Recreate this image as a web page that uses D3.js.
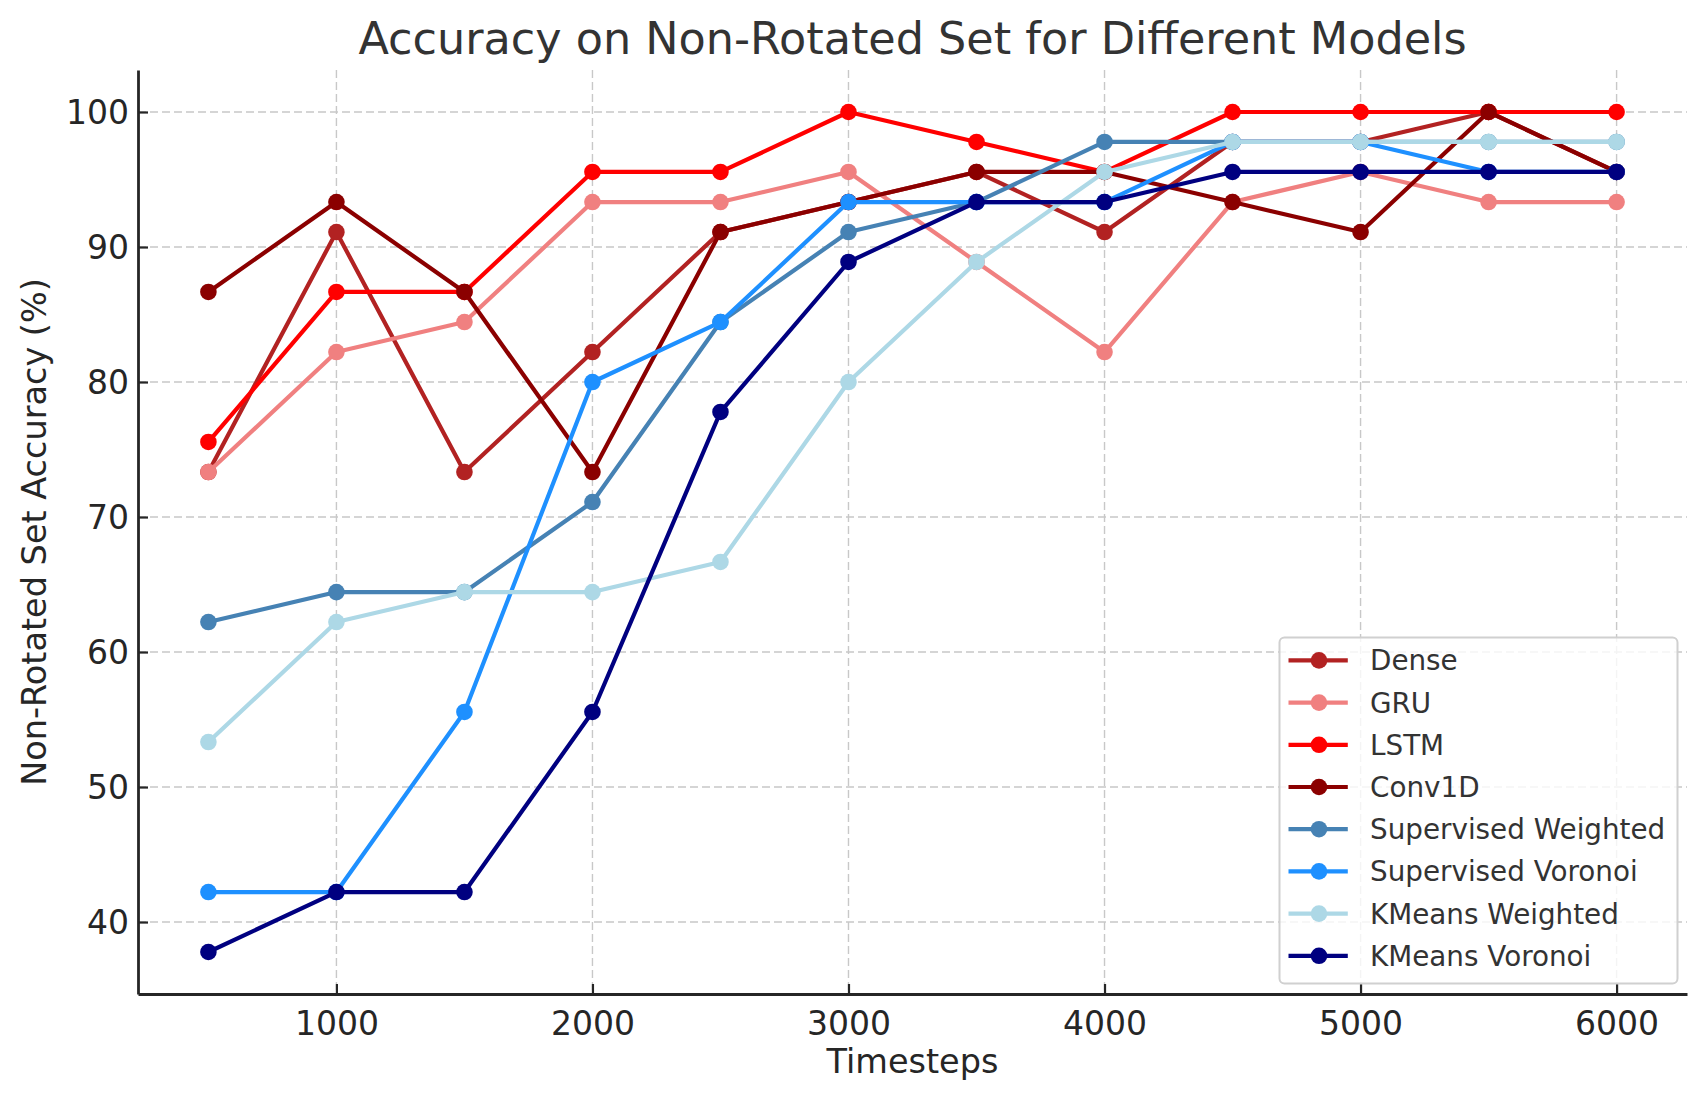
<!DOCTYPE html>
<html><head><meta charset="utf-8">
<script src="https://cdn.jsdelivr.net/npm/d3@7"></script>
<style>
html,body{margin:0;padding:0;background:#fff;}
svg{display:block;font-family:"DejaVu Sans",sans-serif;}
</style></head>
<body><svg id="chart" width="1707" height="1101"></svg>
<script>
const timesteps = [500,1000,1500,2000,2500,3000,3500,4000,4500,5000,5500,6000];
const seriesNames = ["Dense","GRU","LSTM","Conv1D","Supervised Weighted","Supervised Voronoi","KMeans Weighted","KMeans Voronoi"];
const seriesColors = ["#b22222","#f08080","#ff0000","#8b0000","#4682b4","#1e90ff","#add8e6","#000080"];
const dense   = [73.33,91.11,73.33,82.22,91.11,93.33,95.56,91.11,97.78,97.78,100,95.56];
const gru     = [73.33,82.22,84.44,93.33,93.33,95.56,88.89,82.22,93.33,95.56,93.33,93.33];
const lstm    = [75.56,86.67,86.67,95.56,95.56,100,97.78,95.56,100,100,100,100];
const conv1d  = [86.67,93.33,86.67,73.33,91.11,93.33,95.56,95.56,93.33,91.11,100,95.56];
const supWeighted = [62.22,64.44,64.44,71.11,84.44,91.11,93.33,97.78,97.78,97.78,97.78,97.78];
const supVoronoi  = [42.22,42.22,55.56,80,84.44,93.33,93.33,93.33,97.78,97.78,95.56,95.56];
const kmWeighted  = [53.33,62.22,64.44,64.44,66.67,80,88.89,95.56,97.78,97.78,97.78,97.78];
const kmVoronoi   = [37.78,42.22,42.22,55.56,77.78,88.89,93.33,93.33,95.56,95.56,95.56,95.56];
const xTicks = [1000,2000,3000,4000,5000,6000];
const yTicks = [40,50,60,70,80,90,100];
const titleText = "Accuracy on Non-Rotated Set for Different Models";
const xLabel = "Timesteps";
const yLabel = "Non-Rotated Set Accuracy (%)";

const allSeries = [dense,gru,lstm,conv1d,supWeighted,supVoronoi,kmWeighted,kmVoronoi];

const svg = d3.select("#chart");
const L = 138, R = 1687, T = 70, B = 994;
const textColor = "#262626";

const xmin = d3.min(timesteps), xmax = d3.max(timesteps);
const xpad = (xmax - xmin) * 0.05;
const allVals = allSeries.flat();
const ymin = d3.min(allVals), ymax = d3.max(allVals);
const ypad = (ymax - ymin) * 0.05;
const x = d3.scaleLinear().domain([xmin - xpad, xmax + xpad]).range([L, R]);
const y = d3.scaleLinear().domain([ymin - ypad, ymax + ypad]).range([B, T]);

// grid
const grid = svg.append("g");
grid.selectAll("line.gx").data(xTicks).join("line")
  .attr("x1", d => x(d)).attr("x2", d => x(d)).attr("y1", T).attr("y2", B)
  .attr("stroke", "#c8c8c8").attr("stroke-width", 1.4).attr("stroke-dasharray", "8,4");
grid.selectAll("line.gy").data(yTicks).join("line")
  .attr("x1", L).attr("x2", R).attr("y1", d => y(d)).attr("y2", d => y(d))
  .attr("stroke", "#c8c8c8").attr("stroke-width", 1.4).attr("stroke-dasharray", "8,4");

// axes
const xAxis = d3.axisBottom(x).tickValues(xTicks).tickFormat(d3.format("d")).tickSizeInner(-10).tickSizeOuter(0).tickPadding(16);
const yAxis = d3.axisLeft(y).tickValues(yTicks).tickFormat(d3.format("d")).tickSizeInner(-10).tickSizeOuter(0).tickPadding(9);
const gx = svg.append("g").attr("transform", `translate(0,${B})`).call(xAxis);
const gy = svg.append("g").attr("transform", `translate(${L},0)`).call(yAxis);
[gx, gy].forEach(g => {
  g.select(".domain").attr("stroke", textColor).attr("stroke-width", 2.8);
  g.selectAll(".tick line").attr("stroke", textColor).attr("stroke-width", 2.2);
  g.selectAll(".tick text").attr("fill", textColor).style("font-size", "33px").style("font-family", "DejaVu Sans");
});
gy.selectAll(".tick text").attr("dy", "0.36em");
gx.selectAll(".tick text").attr("dy", "0.76em");

// series
const line = d3.line().x((d, i) => x(timesteps[i])).y(d => y(d));
allSeries.forEach((vals, si) => {
  const g = svg.append("g");
  g.append("path").datum(vals).attr("d", line).attr("fill", "none")
    .attr("stroke", seriesColors[si]).attr("stroke-width", 4.2).attr("stroke-linejoin", "round");
  g.selectAll("circle").data(vals).join("circle")
    .attr("cx", (d, i) => x(timesteps[i])).attr("cy", d => y(d)).attr("r", 8.3)
    .attr("fill", seriesColors[si]);
});

// title and labels
svg.append("text").attr("x", (L + R) / 2).attr("y", 54).attr("text-anchor", "middle")
  .attr("fill", "#333").style("font-size", "44.5px").text(titleText);
svg.append("text").attr("x", (L + R) / 2).attr("y", 1073).attr("text-anchor", "middle")
  .attr("fill", textColor).style("font-size", "33.5px").text(xLabel);
svg.append("text").attr("transform", `translate(46,${(T + B) / 2}) rotate(-90)`).attr("text-anchor", "middle")
  .attr("fill", textColor).style("font-size", "33.5px").text(yLabel);

// legend
const lg = svg.append("g");
lg.append("rect").attr("x", 1279.5).attr("y", 637.5).attr("width", 398).attr("height", 346).attr("rx", 5)
  .attr("fill", "rgba(255,255,255,0.8)").attr("stroke", "#d0d0d0").attr("stroke-width", 2);
seriesNames.forEach((name, i) => {
  const cy = 660.4 + i * 42.2;
  lg.append("line").attr("x1", 1288.5).attr("x2", 1347.8).attr("y1", cy).attr("y2", cy)
    .attr("stroke", seriesColors[i]).attr("stroke-width", 4.2);
  lg.append("circle").attr("cx", 1319).attr("cy", cy).attr("r", 8.3).attr("fill", seriesColors[i]);
  lg.append("text").attr("x", 1370).attr("y", cy).attr("dy", "0.36em")
    .attr("fill", "#333").style("font-size", "27.8px").text(name);
});
</script>
</body></html>
